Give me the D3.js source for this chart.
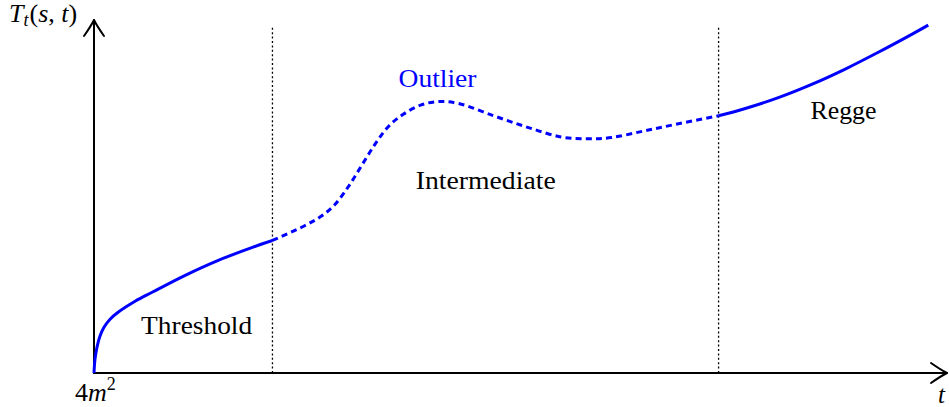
<!DOCTYPE html>
<html>
<head>
<meta charset="utf-8">
<script src="https://cdn.jsdelivr.net/npm/d3@7"></script>
<style>
  html, body { margin: 0; padding: 0; background: #fff; }
  svg { display: block; }
  text { font-family: "Liberation Serif", "Times New Roman", serif; }
</style>
</head>
<body>
<svg id="chart" width="949" height="407"></svg>
<script>
// Sketch of the amplitude T_t(s,t) against t, split into three kinematic regimes.
const thresholdT = [0, 0.0112, 0.0337, 0.0674, 0.112, 0.180, 0.270, 0.461, 0.652, 1.022, 1.393, 1.775, 2.0];
const thresholdV = [0, 0.157, 0.292, 0.416, 0.517, 0.607, 0.685, 0.809, 0.910, 1.101, 1.270, 1.416, 1.494];

const outlierT = [2.0, 2.35, 2.55, 2.70, 2.85, 3.0, 3.15, 3.30, 3.47, 3.66, 3.85, 4.08, 4.48, 4.86, 5.24, 5.54, 5.80, 6.17, 6.55, 7.0];
const outlierV = [1.494, 1.655, 1.77, 1.90, 2.10, 2.34, 2.58, 2.78, 2.92, 3.02, 3.06, 3.04, 2.90, 2.77, 2.66, 2.64, 2.655, 2.73, 2.81, 2.90];

const reggeT = [7.0, 7.29, 7.67, 8.05, 8.42, 8.79, 9.17, 9.35];
const reggeV = [2.90, 2.98, 3.105, 3.257, 3.427, 3.616, 3.821, 3.922];

// Regime boundaries along t
const boundaries = [2, 7];

// Region labels and their anchor positions
const regionLabels = ["Threshold", "Intermediate", "Regge"];
const regionLabelT = [1.15, 4.39, 8.40];
const regionLabelV = [0.44, 2.08, 2.86];
const outlierLabel = "Outlier";
const outlierLabelT = [3.85];
const outlierLabelV = [3.22];

const tMax = 9.56, vMax = 3.98;

const svg = d3.select("#chart");
const x = d3.scaleLinear().domain([0, tMax]).range([94, 947]);
const y = d3.scaleLinear().domain([0, vMax]).range([373, 20]);

const blue = "#0000ff";

// Dotted regime boundaries
svg.append("g").selectAll("line")
  .data(boundaries)
  .join("line")
  .attr("x1", d => x(d)).attr("x2", d => x(d))
  .attr("y1", y(0)).attr("y2", y(3.91))
  .attr("stroke", "#000")
  .attr("stroke-width", 1.3)
  .attr("stroke-dasharray", "2,2.4");

// Axes with open arrow tips
const axes = svg.append("g").attr("stroke", "#000").attr("stroke-width", 2)
  .attr("fill", "none").attr("stroke-linecap", "round").attr("stroke-linejoin", "round");
axes.append("line").attr("x1", x(0)).attr("y1", y(0)).attr("x2", x(tMax)).attr("y2", y(0));
axes.append("line").attr("x1", x(0)).attr("y1", y(0)).attr("x2", x(0)).attr("y2", y(vMax));
const tx = x(tMax), ty = y(0);
axes.append("path")
  .attr("d", `M${tx - 16},${ty - 10} Q${tx - 6},${ty - 3} ${tx},${ty} Q${tx - 6},${ty + 3} ${tx - 16},${ty + 10}`);
const ux = x(0), uy = y(vMax);
axes.append("path")
  .attr("d", `M${ux - 10},${uy + 16} Q${ux - 3},${uy + 6} ${ux},${uy} Q${ux + 3},${uy + 6} ${ux + 10},${uy + 16}`);

// Curve pieces
const line = d3.line()
  .x(d => x(d[0]))
  .y(d => y(d[1]))
  .curve(d3.curveCatmullRom.alpha(0.5));

const zip = (a, b) => a.map((v, i) => [v, b[i]]);

svg.append("path")
  .attr("d", line(zip(thresholdT, thresholdV)))
  .attr("fill", "none").attr("stroke", blue).attr("stroke-width", 3);

svg.append("path")
  .attr("d", line(zip(outlierT, outlierV)))
  .attr("fill", "none").attr("stroke", blue).attr("stroke-width", 3)
  .attr("stroke-dasharray", "6,4.2");

svg.append("path")
  .attr("d", line(zip(reggeT, reggeV)))
  .attr("fill", "none").attr("stroke", blue).attr("stroke-width", 3);

// Region labels
const labelWidths = [111, 140, 66];
svg.append("g").selectAll("text")
  .data(regionLabels)
  .join("text")
  .attr("x", (d, i) => x(regionLabelT[i]))
  .attr("y", (d, i) => y(regionLabelV[i]))
  .attr("text-anchor", "middle")
  .attr("font-size", 26)
  .attr("textLength", (d, i) => labelWidths[i])
  .attr("lengthAdjust", "spacingAndGlyphs")
  .attr("fill", "#000")
  .text(d => d);

svg.append("text")
  .attr("x", x(outlierLabelT[0]))
  .attr("y", y(outlierLabelV[0]))
  .attr("text-anchor", "middle")
  .attr("font-size", 26)
  .attr("textLength", 78)
  .attr("lengthAdjust", "spacingAndGlyphs")
  .attr("fill", blue)
  .text(outlierLabel);

// Axis labels (math style)
const yl = svg.append("text").attr("x", 9).attr("y", 21.5).attr("font-size", 26).attr("fill", "#000");
yl.append("tspan").attr("font-style", "italic").text("T");
yl.append("tspan").attr("font-style", "italic").attr("font-size", 18).attr("dy", 4).text("t");
yl.append("tspan").attr("dy", -4).attr("dx", 1).text("(");
yl.append("tspan").attr("font-style", "italic").text("s");
yl.append("tspan").text(", ");
yl.append("tspan").attr("font-style", "italic").text("t");
yl.append("tspan").text(")");

const xl = svg.append("text").attr("x", 75).attr("y", 401).attr("font-size", 26).attr("fill", "#000");
xl.append("tspan").text("4");
xl.append("tspan").attr("font-style", "italic").text("m");
xl.append("tspan").attr("font-size", 18).attr("dy", -11).text("2");

svg.append("text").attr("x", 938).attr("y", 403).attr("font-size", 25)
  .attr("font-style", "italic").attr("fill", "#000").text("t");
</script>
</body>
</html>
